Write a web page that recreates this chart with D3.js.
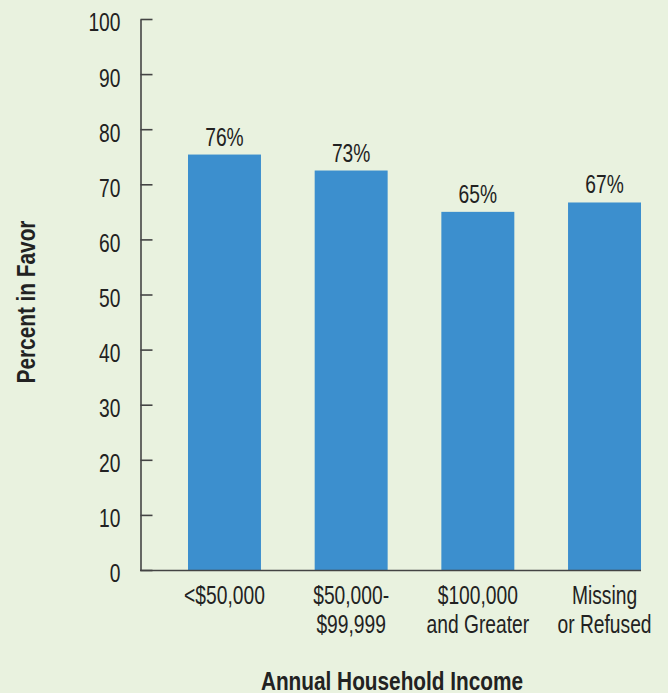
<!DOCTYPE html>
<html>
<head>
<meta charset="utf-8">
<script src="https://cdn.jsdelivr.net/npm/d3@7"></script>
<style>
    body { margin: 0; background: #e9f2df; }
    svg { display: block; }
    text { font-family: "Liberation Sans", Arial, sans-serif; fill: #222; }
</style>
</head>
<body>
<div id="chart"></div>
<script>
// data
var categories = ["<$50,000", "$50,000-\n$99,999", "$100,000\nand Greater", "Missing\nor Refused"];
var percentInFavor = [75.4, 72.5, 65.0, 66.7];
var barLabels = ["76%", "73%", "65%", "67%"];
var yTicks = [0, 10, 20, 30, 40, 50, 60, 70, 80, 90, 100];

var svgWidth = 668;
var svgHeight = 693;
var squeeze = 0.74;      // fake a condensed face
var squeezeBold = 0.8;

var svg = d3.select("#chart")
    .append("svg")
    .attr("width", svgWidth)
    .attr("height", svgHeight);

// scales
var xScale = d3.scaleBand()
    .domain(categories)
    .range([188, 641])
    .paddingInner(0.424)
    .paddingOuter(0);

var yScale = d3.scaleLinear()
    .domain([0, 100])
    .range([570, 19]);

// y axis, ticks pointing inward
var leftAxis = d3.axisLeft(yScale)
    .tickValues(yTicks)
    .tickSizeInner(-12)
    .tickSizeOuter(0)
    .tickPadding(20);

var yAxisG = svg.append("g")
    .attr("transform", "translate(140.5, 0)")
    .call(leftAxis);

yAxisG.select(".domain").attr("stroke", "#444").attr("stroke-width", 1.6);
yAxisG.selectAll(".tick line").attr("stroke", "#444").attr("stroke-width", 1.6);
yAxisG.selectAll(".tick text")
    .attr("font-size", 26)
    .attr("font-family", null)
    .attr("fill", "#222")
    .attr("x", -20 / squeeze)
    .attr("dy", "0.46em")
    .attr("transform", `scale(${squeeze},1)`);

// bars
svg.append("g")
    .selectAll("rect")
    .data(percentInFavor)
    .enter()
    .append("rect")
    .attr("x", (d, i) => xScale(categories[i]))
    .attr("y", d => yScale(d))
    .attr("width", xScale.bandwidth())
    .attr("height", d => yScale(0) - yScale(d))
    .attr("fill", "#3c8fce");

// x axis line
svg.append("line")
    .attr("x1", 140)
    .attr("x2", xScale(categories[3]) + xScale.bandwidth())
    .attr("y1", yScale(0) + 0.5)
    .attr("y2", yScale(0) + 0.5)
    .attr("stroke", "#444")
    .attr("stroke-width", 1.6);

// value labels
svg.append("g")
    .selectAll("text")
    .data(percentInFavor)
    .enter()
    .append("text")
    .attr("x", (d, i) => (xScale(categories[i]) + xScale.bandwidth() / 2) / squeeze)
    .attr("y", d => yScale(d) - 9)
    .attr("transform", `scale(${squeeze},1)`)
    .attr("text-anchor", "middle")
    .attr("font-size", 26)
    .text((d, i) => barLabels[i]);

// category labels (two lines)
var catGroup = svg.append("g");
categories.forEach(function(c, i) {
    var cx = (xScale(c) + xScale.bandwidth() / 2) / squeeze;
    var t = catGroup.append("text")
        .attr("x", cx)
        .attr("y", 604)
        .attr("transform", `scale(${squeeze},1)`)
        .attr("text-anchor", "middle")
        .attr("font-size", 26);
    c.split("\n").forEach(function(line, j) {
        t.append("tspan")
            .attr("x", cx)
            .attr("dy", j == 0 ? 0 : 29)
            .text(line);
    });
});

// axis titles
svg.append("text")
    .attr("transform", `translate(35, 302) rotate(-90) scale(${squeezeBold},1)`)
    .attr("text-anchor", "middle")
    .attr("font-size", 26)
    .attr("font-weight", "bold")
    .text("Percent in Favor");

svg.append("text")
    .attr("x", 392 / squeezeBold)
    .attr("y", 690)
    .attr("transform", `scale(${squeezeBold},1)`)
    .attr("text-anchor", "middle")
    .attr("font-size", 26)
    .attr("font-weight", "bold")
    .text("Annual Household Income");
</script>
</body>
</html>
